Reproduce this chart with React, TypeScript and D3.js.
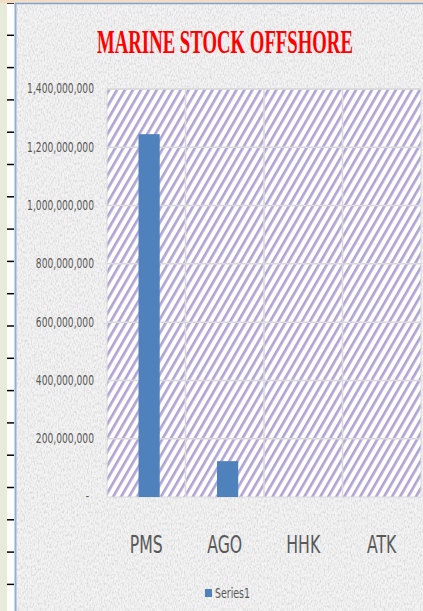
import React, { useEffect, useRef } from 'react';
import * as d3 from 'd3';

const categories = ['PMS', 'AGO', 'HHK', 'ATK'];
const series1 = [1245000000, 123000000, 0, 0];
const yTicks = [0, 200000000, 400000000, 600000000, 800000000, 1000000000, 1200000000, 1400000000];
const seriesName = 'Series1';
const title = 'MARINE STOCK OFFSHORE';

// squeeze a text horizontally around its anchor point so it looks like a narrow font
const squeeze = (el: SVGTextElement, sx: number) => {
  const ax = +(el.getAttribute('x') || 0);
  const ay = +(el.getAttribute('y') || 0);
  el.setAttribute('transform', `translate(${ax},${ay}) scale(${sx},1) translate(${-ax},${-ay})`);
};

const App: React.FC = () => {
  const svgRef = useRef<SVGSVGElement | null>(null);

  useEffect(() => {
    if (!svgRef.current) return;
    const svg = d3.select(svgRef.current);
    svg.selectAll('*').remove();

    const width = 423;
    const height = 611;
    const margin = { top: 89, right: 2, bottom: 114, left: 107 };
    const sans = "'DejaVu Sans Condensed', 'DejaVu Sans', sans-serif";

    const defs = svg.append('defs');

    // grey granite-ish background
    const filter = defs.append('filter').attr('id', 'granite').attr('x', 0).attr('y', 0).attr('width', 1).attr('height', 1);
    filter.append('feTurbulence').attr('type', 'fractalNoise').attr('baseFrequency', '0.7 0.35').attr('numOctaves', 3).attr('seed', 5).attr('result', 'noise');
    filter.append('feColorMatrix').attr('type', 'matrix')
      .attr('values', '0 0 0 0 0.6  0 0 0 0 0.6  0 0 0 0 0.6  0 0 0 -1.6 0.95');
    filter.append('feComposite').attr('in2', 'SourceGraphic').attr('operator', 'in').attr('result', 'spots');
    filter.append('feMerge').call(m => {
      m.append('feMergeNode').attr('in', 'SourceGraphic');
      m.append('feMergeNode').attr('in', 'spots');
    });

    const stripes = defs.append('pattern')
      .attr('id', 'stripes')
      .attr('patternUnits', 'userSpaceOnUse')
      .attr('width', 6.9)
      .attr('height', 6.9)
      .attr('patternTransform', 'rotate(30)');
    stripes.append('rect').attr('width', 6.9).attr('height', 6.9).attr('fill', '#ffffff');
    stripes.append('rect').attr('width', 2.7).attr('height', 6.9).attr('fill', '#b1a4d5');

    // left ruler strip
    svg.append('rect').attr('x', 0).attr('y', 0).attr('width', 7).attr('height', height).attr('fill', '#e6ecd9');
    svg.append('rect').attr('x', 7).attr('y', 0).attr('width', 8).attr('height', height).attr('fill', '#ffffff');
    svg.append('g').selectAll('line')
      .data(d3.range(3, height, 32.3))
      .join('line')
      .attr('x1', 7).attr('x2', 14)
      .attr('y1', d => d).attr('y2', d => d)
      .attr('stroke', '#000').attr('stroke-width', 1.5);
    svg.append('rect').attr('x', 0).attr('y', 0).attr('width', width).attr('height', 3).attr('fill', '#f3dcc4');

    // chart area
    svg.append('rect')
      .attr('x', 15).attr('y', 3).attr('width', width - 15).attr('height', height - 3)
      .attr('fill', '#f3f3f3').attr('filter', 'url(#granite)');
    svg.append('line').attr('x1', 15.5).attr('x2', 15.5).attr('y1', 3).attr('y2', height).attr('stroke', '#8fb0d8').attr('stroke-width', 2);
    svg.append('line').attr('x1', 15).attr('x2', width).attr('y1', 3.5).attr('y2', 3.5).attr('stroke', '#7fa3cf').attr('stroke-width', 1.5);

    const x = d3.scaleBand()
      .domain(categories)
      .range([margin.left, width - margin.right])
      .paddingInner(0.73)
      .paddingOuter(0.365)
      .align(0.55);
    const xGrid = d3.scaleBand().domain(categories).range([margin.left, width - margin.right]);

    const y = d3.scaleLinear()
      .domain([0, 1400000000])
      .range([height - margin.bottom, margin.top]);

    // plot area
    svg.append('rect')
      .attr('x', margin.left).attr('y', margin.top)
      .attr('width', width - margin.right - margin.left)
      .attr('height', y(0) - margin.top)
      .attr('fill', 'url(#stripes)')
      .attr('stroke', '#d9d9d9');

    svg.append('g').selectAll('line')
      .data(yTicks.slice(1))
      .join('line')
      .attr('x1', margin.left).attr('x2', width - margin.right)
      .attr('y1', d => y(d)).attr('y2', d => y(d))
      .attr('stroke', '#d9d9d9').attr('stroke-width', 1.5);

    svg.append('g').selectAll('line')
      .data(categories.slice(1))
      .join('line')
      .attr('x1', d => xGrid(d) as number).attr('x2', d => xGrid(d) as number)
      .attr('y1', margin.top).attr('y2', y(0))
      .attr('stroke', '#d9d9d9').attr('stroke-width', 1.5);

    // bars
    svg.append('g').selectAll('rect')
      .data(categories.map((c, i) => ({ c, v: series1[i] })))
      .join('rect')
      .attr('x', d => x(d.c) as number)
      .attr('y', d => y(d.v))
      .attr('width', x.bandwidth())
      .attr('height', d => y(0) - y(d.v))
      .attr('fill', '#4f81bd');

    // y axis labels
    const fmt = d3.format(',');
    const yLabels = svg.append('g').selectAll<SVGTextElement, number>('text')
      .data(yTicks)
      .join('text')
      .attr('x', d => (d === 0 ? 89 : 94))
      .attr('y', d => y(d) + 4.5)
      .attr('text-anchor', 'end')
      .attr('font-family', sans)
      .attr('font-size', 13.5)
      .attr('fill', '#595959')
      .text(d => (d === 0 ? '-' : fmt(d)));
    const widest = yLabels.nodes()[yLabels.nodes().length - 1].getComputedTextLength();
    const ySx = 67 / widest;
    yLabels.each(function () { squeeze(this, ySx); });

    // category labels
    const catLabels = svg.append('g').selectAll<SVGTextElement, string>('text')
      .data(categories)
      .join('text')
      .attr('x', d => (xGrid(d) as number) + xGrid.bandwidth() / 2)
      .attr('y', 553)
      .attr('text-anchor', 'middle')
      .attr('font-family', sans)
      .attr('font-size', 24)
      .attr('fill', '#595959')
      .text(d => d);
    const cSx = 33 / catLabels.nodes()[0].getComputedTextLength();
    catLabels.each(function () { squeeze(this, cSx); });

    // title
    const t = svg.append('text')
      .attr('x', 225).attr('y', 53)
      .attr('text-anchor', 'middle')
      .attr('font-family', "'Liberation Serif', 'DejaVu Serif', serif")
      .attr('font-weight', 'bold')
      .attr('font-size', 34)
      .attr('fill', '#ff0000')
      .text(title);
    const tNode = t.node() as SVGTextElement;
    squeeze(tNode, 256 / tNode.getComputedTextLength());

    // legend
    const lg = svg.append('g');
    lg.append('rect').attr('x', 205).attr('y', 589).attr('width', 7).attr('height', 8).attr('fill', '#4f81bd');
    const lt = lg.append('text')
      .attr('x', 215).attr('y', 598)
      .attr('font-family', sans)
      .attr('font-size', 13.5)
      .attr('fill', '#595959')
      .text(seriesName);
    const ltNode = lt.node() as SVGTextElement;
    squeeze(ltNode, 35 / ltNode.getComputedTextLength());
  }, []);

  return (
    <svg ref={svgRef} width="423" height="611" style={{ position: 'absolute', left: 0, top: 0, display: 'block' }}></svg>
  );
};

export default App;
